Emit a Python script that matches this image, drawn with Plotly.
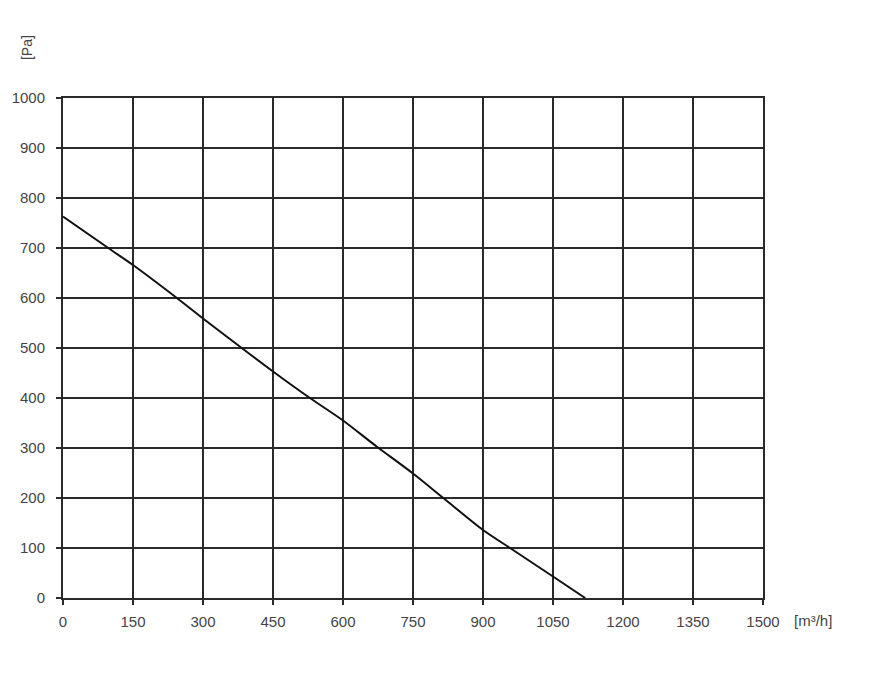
import plotly.graph_objects as go

flow = [0, 97, 150, 244, 300, 383, 450, 529, 600, 672, 750, 815, 900, 958, 1050, 1119]
pressure = [763, 700, 666, 600, 559, 500, 453, 400, 355, 303, 249, 200, 136, 100, 43, 0]

x_ticks = [0, 150, 300, 450, 600, 750, 900, 1050, 1200, 1350, 1500]
y_ticks = [0, 100, 200, 300, 400, 500, 600, 700, 800, 900, 1000]

fig = go.Figure()
fig.add_trace(go.Scatter(x=flow, y=pressure, mode="lines",
                         line=dict(color="#111111", width=2, shape="spline", smoothing=0.8),
                         hoverinfo="skip", showlegend=False))

axis_common = dict(showgrid=True, gridcolor="#2a2a2a", gridwidth=2,
                   showline=True, linecolor="#2a2a2a", linewidth=2, mirror=True,
                   ticks="outside", ticklen=5, tickcolor="#2a2a2a", tickwidth=2,
                   zeroline=False, automargin=False,
                   tickfont=dict(family="Liberation Sans, Arial", size=15, color="#444444"))

fig.update_xaxes(range=[0, 1500], tickvals=x_ticks, ticktext=[str(v) for v in x_ticks],
                 ticklabelstandoff=4, **axis_common)
fig.update_yaxes(range=[0, 1000], tickvals=y_ticks, ticktext=[str(v) for v in y_ticks],
                 ticklabelstandoff=8, **axis_common)

fig.update_layout(
    width=860, height=660,
    margin=dict(l=55, r=105, t=90, b=70),
    paper_bgcolor="white", plot_bgcolor="white",
    annotations=[
        dict(text="[Pa]", xref="paper", yref="paper", x=-0.0514, y=1.1, showarrow=False,
             textangle=-90, font=dict(family="Liberation Sans, Arial", size=14, color="#444444"),
             xanchor="center", yanchor="middle"),
        dict(text="[m³/h]", xref="paper", yref="paper", x=1.072, y=-0.044, showarrow=False,
             font=dict(family="Liberation Sans, Arial", size=15, color="#444444"),
             xanchor="center", yanchor="middle"),
    ],
)

fig.write_html("out.html")
